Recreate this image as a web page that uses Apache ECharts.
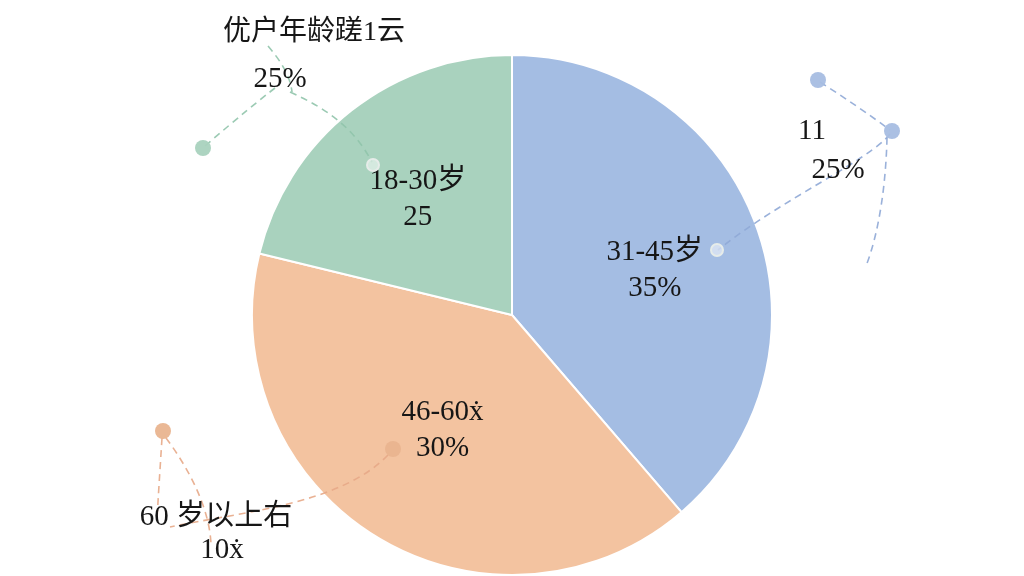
<!DOCTYPE html>
<html>
<head>
<meta charset="utf-8">
<script src="https://cdn.jsdelivr.net/npm/echarts@6.0.0/dist/echarts.min.js"></script>
<style>
  html, body { margin: 0; padding: 0; background: #fff; }
  #main { width: 1024px; height: 576px; }
</style>
</head>
<body>
<div id="main"></div>
<script>
// slice shares as drawn (measured from the slice angles)
let groups   = ['31-45岁', '46-60ẋ', '18-30岁'];
let shares   = [38.7, 40.1, 21.2];
let pctTexts = ['35%', '30%', '25'];
let colors   = ['#a4bde3', '#f3c3a0', '#a9d2be'];
let lineCols = ['#8fa9d6', '#e7a987', '#90c4ab'];
let dotCols  = ['#a6bde2', '#e9b48f', '#a9d2be'];

// outside callout texts, as printed
let calloutTitle = '优户年龄蹉1云';
let calloutGreen = '25%';
let calloutBlue  = ['11', '25%'];
let calloutOld   = ['60 岁以上右', '10ẋ'];

let labelOffsets = [[18, 2], [0, 2], [-12, -11]];
let font = '"Liberation Serif", "Noto Sans CJK SC", serif';

let chart = echarts.init(document.getElementById('main'));

let dash = (shape, color) => ({
  type: 'bezierCurve',
  shape: shape,
  z: 10,
  style: { stroke: color, lineWidth: 1.6, lineDash: [7, 5], fill: null, opacity: 0.9 }
});
let dot = (cx, cy, r, color, hollow) => ({
  type: 'circle',
  shape: { cx: cx, cy: cy, r: r },
  z: 11,
  style: hollow
    ? { fill: 'rgba(255,255,255,0.5)', stroke: '#e6ece9', lineWidth: 2 }
    : { fill: color, opacity: 0.95 }
});
let txt = (x, y, text, size) => ({
  type: 'text',
  x: x, y: y, z: 12,
  style: { text: text, font: size + 'px ' + font, fill: '#161616', align: 'center', verticalAlign: 'middle' }
});

let option = {
  animation: false,
  backgroundColor: '#fff',
  series: [{
    type: 'pie',
    center: [512, 315],
    radius: 260,
    startAngle: 90,
    clockwise: true,
    silent: true,
    itemStyle: { borderColor: '#fff', borderWidth: 2 },
    label: {
      position: 'inside',
      fontFamily: font,
      fontSize: 29,
      lineHeight: 36,
      color: '#161616',
      formatter: p => groups[p.dataIndex] + '\n' + pctTexts[p.dataIndex]
    },
    labelLine: { show: false },
    data: shares.map((v, i) => ({
      name: groups[i],
      value: v,
      itemStyle: { color: colors[i] },
      label: { offset: labelOffsets[i] }
    }))
  }],
  graphic: [
    // green callout
    dash({ x1: 205, y1: 146, x2: 275, y2: 88, cpx1: 235, cpy1: 120, cpx2: 262, cpy2: 98 }, lineCols[2]),
    dash({ x1: 268, y1: 46, x2: 292, y2: 92, cpx1: 280, cpy1: 60, cpx2: 290, cpy2: 75 }, lineCols[2]),
    dash({ x1: 290, y1: 92, x2: 372, y2: 162, cpx1: 330, cpy1: 110, cpx2: 355, cpy2: 130 }, lineCols[2]),
    dot(203, 148, 8, dotCols[2]),
    dot(373, 165, 6, colors[2], true),
    // blue callout
    dash({ x1: 820, y1: 82, x2: 890, y2: 130, cpx1: 845, cpy1: 98, cpx2: 870, cpy2: 115 }, lineCols[0]),
    dash({ x1: 890, y1: 134, x2: 718, y2: 250, cpx1: 870, cpy1: 160, cpx2: 780, cpy2: 200 }, lineCols[0]),
    dash({ x1: 887, y1: 138, x2: 866, y2: 266, cpx1: 886, cpy1: 180, cpx2: 880, cpy2: 230 }, lineCols[0]),
    dot(818, 80, 8, dotCols[0]),
    dot(892, 131, 8, dotCols[0]),
    dot(717, 250, 6, colors[0], true),
    // orange callout
    dash({ x1: 162, y1: 438, x2: 157, y2: 520, cpx1: 160, cpy1: 470, cpx2: 158, cpy2: 500 }, lineCols[1]),
    dash({ x1: 166, y1: 438, x2: 211, y2: 545, cpx1: 190, cpy1: 470, cpx2: 210, cpy2: 510 }, lineCols[1]),
    dash({ x1: 388, y1: 455, x2: 170, y2: 527, cpx1: 340, cpy1: 505, cpx2: 240, cpy2: 512 }, lineCols[1]),
    dot(163, 431, 8, dotCols[1]),
    dot(393, 449, 8, dotCols[1]),
    // outside texts
    txt(314, 33, calloutTitle, 28),
    txt(280, 79, calloutGreen, 29),
    txt(812, 131, calloutBlue[0], 29),
    txt(838, 170, calloutBlue[1], 29),
    txt(216, 517, calloutOld[0], 29),
    txt(222, 550, calloutOld[1], 29)
  ]
};

chart.setOption(option);
</script>
</body>
</html>
